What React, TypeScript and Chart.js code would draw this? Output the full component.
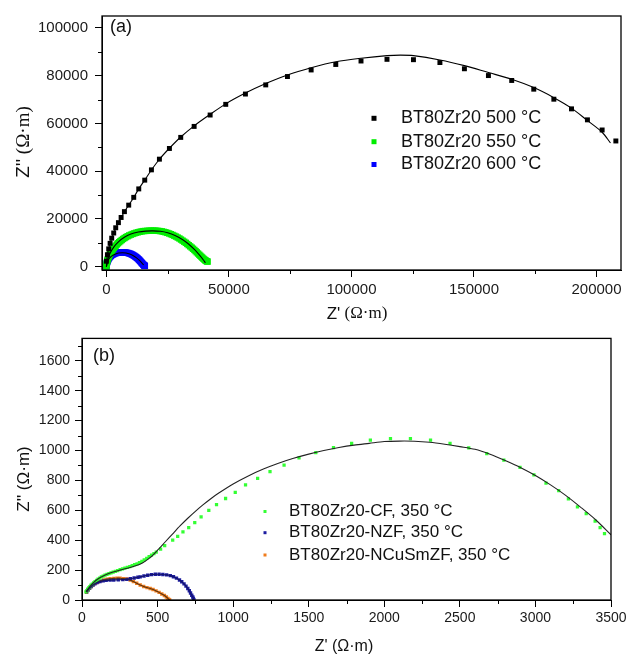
import React, { useEffect, useRef } from 'react';
import { Chart, registerables } from 'chart.js';

Chart.register(...registerables);

const SANS = '"Liberation Sans", Arial, sans-serif';
const SERIF = '"Liberation Serif", "Times New Roman", serif';

// ---------- Panel (a) ----------
const aLabels = ['BT80Zr20 500 °C', 'BT80Zr20 550 °C', 'BT80Zr20 600 °C'];
const aColors = ['#000000', '#00ee00', '#0000ff'];

const a500X = [0, 410, 940, 1510, 2160, 2980, 3800, 4900, 6000, 7350, 9100, 11150, 13200, 15640, 18370, 21630, 25710, 30330, 35800, 42330, 48700, 56730, 65020, 73880, 83550, 93600, 103900, 114500, 125300, 136100, 146100, 155900, 165400, 174400, 182600, 189800, 196300, 202300, 207900];
const a500Y = [2280, 5000, 7450, 9770, 11930, 14090, 16290, 18440, 20600, 23050, 25770, 29030, 32570, 36240, 40550, 45030, 49510, 54150, 58750, 63520, 67990, 72310, 76140, 79640, 82400, 84700, 86150, 86850, 86700, 85500, 82900, 80050, 78000, 74350, 70150, 66100, 61500, 57250, 52650];

const a500FitX = [0, 400, 1500, 3000, 4900, 7350, 9100, 11150, 13200, 15640, 18370, 21630, 25710, 30330, 35800, 42330, 48700, 56730, 65020, 73880, 83550, 93600, 103900, 114500, 120000, 125300, 136100, 146100, 155900, 165400, 174400, 182600, 189800, 196300, 202300, 205700];
const a500FitY = [0, 5000, 9800, 14100, 18400, 23000, 25800, 29000, 32600, 36300, 40500, 45000, 49600, 54300, 59000, 63800, 68200, 72700, 76700, 80300, 83300, 85800, 87300, 88400, 88600, 88400, 86600, 84200, 81300, 78500, 75000, 70800, 66400, 61200, 56300, 51800];

const a550X = [0, 60, 150, 260, 400, 560, 750, 960, 1200, 1450, 1700, 2000, 2300, 2650, 3000, 3400, 3800, 4250, 4700, 5200, 5700, 6250, 6800, 7400, 8000, 8650, 9300, 10000, 10700, 11400, 12100, 12850, 13600, 14350, 15100, 15850, 16600, 17350, 18100, 18850, 19600, 20350, 21100, 21850, 22600, 23350, 24100, 24850, 25600, 26300, 27000, 27700, 28400, 29100, 29800, 30450, 31100, 31750, 32400, 33000, 33600, 34200, 34800, 35350, 35900, 36400, 36900, 37400, 37900, 38350, 38800, 39200, 39600, 39950, 40300, 40600, 40900, 41100, 41300];
const a550Y = [0, 700, 1400, 2000, 2600, 3150, 3700, 4250, 4800, 5300, 5800, 6300, 6800, 7300, 7800, 8300, 8800, 9300, 9800, 10250, 10700, 11150, 11600, 12000, 12400, 12750, 13100, 13400, 13700, 13950, 14200, 14400, 14600, 14750, 14900, 14950, 15000, 15050, 15100, 15100, 15100, 15050, 15000, 14900, 14800, 14600, 14400, 14150, 13900, 13600, 13300, 12950, 12600, 12200, 11800, 11350, 10900, 10450, 10000, 9500, 9000, 8500, 8000, 7500, 7000, 6500, 6000, 5500, 5000, 4550, 4100, 3700, 3300, 3000, 2700, 2500, 2300, 2200, 2100];

const a550FitX = [0, 500, 1500, 3000, 5000, 7500, 10000, 13000, 16000, 19000, 22000, 25000, 28000, 31000, 33500, 36000, 38000, 39500, 40400];
const a550FitY = [0, 2800, 5600, 8200, 10500, 12400, 13700, 14500, 14900, 15000, 14800, 14200, 13100, 11400, 9500, 7100, 4800, 2900, 1600];

const a600X = [0, 40, 100, 190, 300, 440, 600, 790, 1000, 1240, 1500, 1790, 2100, 2440, 2800, 3190, 3600, 4000, 4400, 4850, 5300, 5750, 6200, 6650, 7100, 7550, 8000, 8450, 8900, 9350, 9800, 10200, 10600, 11000, 11400, 11750, 12100, 12450, 12800, 13100, 13400, 13700, 14000, 14250, 14500, 14750, 15000, 15200, 15400, 15550, 15700];
const a600Y = [0, 500, 1000, 1450, 1900, 2300, 2700, 3100, 3500, 3850, 4200, 4500, 4800, 5000, 5200, 5400, 5600, 5700, 5800, 5900, 6000, 6000, 6000, 6000, 6000, 5950, 5900, 5800, 5700, 5550, 5400, 5200, 5000, 4750, 4500, 4250, 4000, 3700, 3400, 3100, 2800, 2450, 2100, 1800, 1500, 1200, 900, 700, 500, 400, 300];

const a600FitX = [0, 300, 1000, 2000, 3500, 5000, 6500, 8000, 9500, 11000, 12300, 13500, 14500, 15200];
const a600FitY = [0, 1600, 3200, 4300, 5200, 5700, 5800, 5700, 5300, 4600, 3700, 2600, 1500, 700];

const aXTicks = [0, 50000, 100000, 150000, 200000];
const aXMinor = [25000, 75000, 125000, 175000];
const aYTicks = [0, 20000, 40000, 60000, 80000, 100000];
const aYMinor = [10000, 30000, 50000, 70000, 90000];

// ---------- Panel (b) ----------
const bLabels = ['BT80Zr20-CF, 350 °C', 'BT80Zr20-NZF, 350 °C', 'BT80Zr20-NCuSmZF, 350 °C'];
const bColors = ['#33ff33', '#1c1ca0', '#f07c1c'];

const bCFX = [26, 32, 38, 45, 52, 60, 68, 77, 86, 96, 106, 117, 128, 140, 152, 165, 178, 192, 206, 221, 236, 252, 268, 284, 300, 316, 332, 348, 364, 380, 396, 412, 428, 444, 460, 476, 491, 520, 547, 600, 633, 668, 706, 746, 788, 839, 890, 950, 1014, 1082, 1162, 1244, 1337, 1436, 1547, 1664, 1784, 1908, 2041, 2173, 2306, 2435, 2559, 2678, 2791, 2898, 2990, 3070, 3154, 3218, 3278, 3336, 3395, 3428, 3457];
const bCFY = [55, 63, 72, 81, 90, 99, 106, 115, 123, 131, 139, 146, 154, 160, 166, 172, 177, 182, 187, 192, 197, 203, 208, 213, 218, 224, 230, 236, 242, 250, 259, 268, 279, 290, 301, 311, 320, 340, 363, 400, 426, 455, 484, 517, 556, 600, 638, 679, 720, 770, 814, 859, 903, 951, 986, 1019, 1048, 1070, 1079, 1079, 1070, 1048, 1017, 980, 936, 888, 837, 782, 731, 676, 623, 577, 528, 484, 444];

const bCFFitX = [26, 60, 100, 150, 200, 250, 300, 350, 400, 450, 500, 550, 600, 650, 700, 750, 800, 850, 900, 1000, 1100, 1200, 1300, 1400, 1500, 1600, 1700, 1800, 1900, 2000, 2100, 2200, 2300, 2400, 2500, 2600, 2700, 2800, 2900, 3000, 3100, 3200, 3300, 3400, 3500];
const bCFFitY = [55, 100, 137, 165, 185, 200, 213, 227, 248, 283, 333, 388, 443, 497, 547, 593, 636, 676, 712, 776, 830, 876, 915, 948, 976, 1000, 1020, 1036, 1048, 1060, 1063, 1062, 1055, 1042, 1026, 1008, 975, 933, 887, 833, 770, 700, 620, 535, 436];

const bNZFX = [31, 40, 50, 60, 72, 85, 100, 119, 140, 160, 186, 210, 240, 270, 297, 320, 345, 370, 385, 410, 435, 460, 485, 510, 535, 560, 584, 605, 625, 645, 660, 675, 688, 700, 710, 718, 726, 733, 737, 740];
const bNZFY = [55, 68, 80, 90, 100, 109, 117, 123, 128, 131, 133, 134, 135, 136, 138, 142, 147, 152, 155, 161, 166, 170, 172, 172, 171, 168, 163, 156, 146, 134, 122, 108, 93, 77, 62, 47, 32, 20, 10, 2];

const bCuX = [30, 40, 50, 62, 75, 90, 106, 124, 144, 165, 186, 210, 232, 252, 275, 297, 319, 340, 362, 385, 408, 430, 451, 470, 490, 510, 528, 545, 558, 568, 575, 580];
const bCuY = [52, 66, 78, 90, 101, 111, 120, 128, 134, 139, 142, 145, 146, 146, 143, 140, 133, 124, 112, 100, 90, 83, 77, 70, 61, 51, 40, 30, 20, 11, 4, 0];

const bXTicks = [0, 500, 1000, 1500, 2000, 2500, 3000, 3500];
const bXMinor = [250, 750, 1250, 1750, 2250, 2750, 3250];
const bYTicks = [0, 200, 400, 600, 800, 1000, 1200, 1400, 1600];
const bYMinor = [100, 300, 500, 700, 900, 1100, 1300, 1500, 1700];

const zip = (xs: number[], ys: number[]) => xs.map((x, i) => ({ x, y: ys[i] }));

type Part = { text: string; font: string };

function drawParts(ctx: CanvasRenderingContext2D, parts: Part[], cx: number, cy: number, rotate: boolean) {
  ctx.save();
  ctx.translate(cx, cy);
  if (rotate) ctx.rotate(-Math.PI / 2);
  let total = 0;
  const widths = parts.map((p) => {
    ctx.font = p.font;
    const w = ctx.measureText(p.text).width;
    total += w;
    return w;
  });
  let x = -total / 2;
  ctx.textBaseline = 'middle';
  ctx.textAlign = 'left';
  ctx.fillStyle = '#111';
  parts.forEach((p, i) => {
    ctx.font = p.font;
    ctx.fillText(p.text, x, 0);
    x += widths[i];
  });
  ctx.restore();
}

function makeDecor(d: any) {
  return {
    id: 'decor',
    afterDraw(chart: any) {
      const { ctx, chartArea: a, scales } = chart;
      ctx.save();
      ctx.strokeStyle = '#000';
      ctx.lineWidth = 1.3;
      ctx.strokeRect(a.left, a.top, a.right - a.left, a.bottom - a.top);
      ctx.lineWidth = 1;
      ctx.beginPath();
      d.xMinor.forEach((v: number) => {
        const x = Math.round(scales.x.getPixelForValue(v)) + 0.5;
        ctx.moveTo(x, a.bottom);
        ctx.lineTo(x, a.bottom + d.minorLen);
      });
      d.yMinor.forEach((v: number) => {
        const y = Math.round(scales.y.getPixelForValue(v)) + 0.5;
        ctx.moveTo(a.left, y);
        ctx.lineTo(a.left - d.minorLen, y);
      });
      ctx.stroke();
      // legend
      ctx.textBaseline = 'middle';
      ctx.textAlign = 'left';
      d.labels.forEach((lab: string, i: number) => {
        const y = d.rows[i];
        ctx.fillStyle = d.colors[i];
        const m = d.marker;
        ctx.fillRect(d.markerX - m / 2, y - m / 2, m, m);
        ctx.fillStyle = '#111';
        ctx.font = d.legendFont;
        ctx.fillText(lab, d.textX, y);
      });
      // tag
      ctx.font = d.tagFont;
      ctx.fillStyle = '#111';
      ctx.fillText(d.tag, d.tagX, d.tagY);
      ctx.restore();
      drawParts(ctx, d.xTitle, d.xTitleCx, d.xTitleCy, false);
      drawParts(ctx, d.yTitle, d.yTitleCx, d.yTitleCy, true);
    },
  };
}

function makeScale(min: number, max: number, ticks: number[], size: number, pad: number, fit: (s: any) => void) {
  return {
    type: 'linear',
    min,
    max,
    afterBuildTicks: (s: any) => {
      s.ticks = ticks.map((v) => ({ value: v }));
    },
    afterFit: fit,
    grid: { display: true, drawOnChartArea: false, drawTicks: true, tickLength: 7, tickColor: '#000', tickWidth: 1, color: '#000' },
    border: { display: true, color: '#000', width: 1 },
    ticks: {
      font: { family: SANS, size },
      color: '#1a1a1a',
      padding: pad,
      autoSkip: false,
      maxRotation: 0,
      callback: (v: any) => String(v),
    },
  };
}

const pointSet = (data: any[], color: string, r: number) => ({
  data,
  showLine: false,
  pointStyle: 'rect',
  pointRadius: r,
  pointHoverRadius: r,
  pointBackgroundColor: color,
  pointBorderWidth: 0,
  backgroundColor: color,
  borderColor: color,
  order: 1,
});

const lineSet = (data: any[], color: string) => ({
  data,
  showLine: true,
  pointRadius: 0,
  borderColor: color,
  borderWidth: 1.1,
  tension: 0.3,
  fill: false,
  order: 0,
});

export default function App() {
  const refA = useRef<HTMLCanvasElement>(null);
  const refB = useRef<HTMLCanvasElement>(null);

  useEffect(() => {
    const chartA = new Chart(refA.current as HTMLCanvasElement, {
      type: 'scatter',
      data: {
        datasets: [
          lineSet(zip(a500FitX, a500FitY), '#000'),
          lineSet(zip(a550FitX, a550FitY), '#000'),
          lineSet(zip(a600FitX, a600FitY), '#000'),
          pointSet(zip(a500X, a500Y), aColors[0], 3.5),
          pointSet(zip(a550X, a550Y), aColors[1], 4.5),
          pointSet(zip(a600X, a600Y), aColors[2], 4.5),
        ] as any,
      },
      options: {
        responsive: false,
        animation: false,
        events: [],
        layout: { padding: { left: 0, right: 14, top: 9, bottom: 0 } },
        plugins: { legend: { display: false }, tooltip: { enabled: false } },
        scales: {
          x: makeScale(-1800, 210000, aXTicks, 15, 4, (s: any) => { s.height = 55; }),
          y: makeScale(-1400, 105000, aYTicks, 15, 7, (s: any) => { s.width = 102; }),
        } as any,
      },
      plugins: [
        makeDecor({
          xMinor: aXMinor, yMinor: aYMinor, minorLen: 4,
          labels: aLabels, colors: aColors, marker: 5, markerX: 374, textX: 401,
          rows: [118.3, 141.7, 164.5], legendFont: `18px ${SANS}`,
          tag: '(a)', tagX: 110, tagY: 27.5, tagFont: `18px ${SANS}`,
          xTitle: [{ text: "Z'", font: `17px ${SANS}` }, { text: ' (Ω·m)', font: `17px ${SERIF}` }],
          xTitleCx: 357, xTitleCy: 314,
          yTitle: [{ text: "Z''", font: `19px ${SANS}` }, { text: ' (Ω·m)', font: `19px ${SERIF}` }],
          yTitleCx: 24, yTitleCy: 142,
        }),
      ],
    });

    const chartB = new Chart(refB.current as HTMLCanvasElement, {
      type: 'scatter',
      data: {
        datasets: [
          lineSet(zip(bCFFitX, bCFFitY), '#222'),
          lineSet(zip(bNZFX, bNZFY), '#14146a'),
          lineSet(zip(bCuX, bCuY), '#5a3410'),
          pointSet(zip(bCFX, bCFY), bColors[0], 2.3),
          pointSet(zip(bNZFX, bNZFY), bColors[1], 2.4),
          pointSet(zip(bCuX, bCuY), bColors[2], 2.4),
        ] as any,
      },
      options: {
        responsive: false,
        animation: false,
        events: [],
        layout: { padding: { left: 0, right: 24, top: 10, bottom: 0 } },
        plugins: { legend: { display: false }, tooltip: { enabled: false } },
        scales: {
          x: makeScale(0, 3500, bXTicks, 14, 3, (s: any) => { s.height = 55; }),
          y: makeScale(0, 1750, bYTicks, 14, 5, (s: any) => { s.width = 82; }),
        } as any,
      },
      plugins: [
        makeDecor({
          xMinor: bXMinor, yMinor: bYMinor, minorLen: 4,
          labels: bLabels, colors: bColors, marker: 3, markerX: 265, textX: 289,
          rows: [186.5, 207.7, 230], legendFont: `17px ${SANS}`,
          tag: '(b)', tagX: 93, tagY: 30.7, tagFont: `18px ${SANS}`,
          xTitle: [{ text: "Z' (Ω·m)", font: `16px ${SANS}` }],
          xTitleCx: 344, xTitleCy: 321.5,
          yTitle: [{ text: "Z'' (Ω·m)", font: `17px ${SANS}` }],
          yTitleCx: 24, yTitleCy: 154,
        }),
      ],
    });

    return () => {
      chartA.destroy();
      chartB.destroy();
    };
  }, []);

  return (
    <div style={{ position: 'absolute', left: 0, top: 0, width: 635, height: 655, background: '#fff', overflow: 'hidden' }}>
      <canvas ref={refA} width={635} height={325} style={{ position: 'absolute', left: 0, top: 0 }} />
      <canvas ref={refB} width={635} height={330} style={{ position: 'absolute', left: 0, top: 325 }} />
    </div>
  );
}
